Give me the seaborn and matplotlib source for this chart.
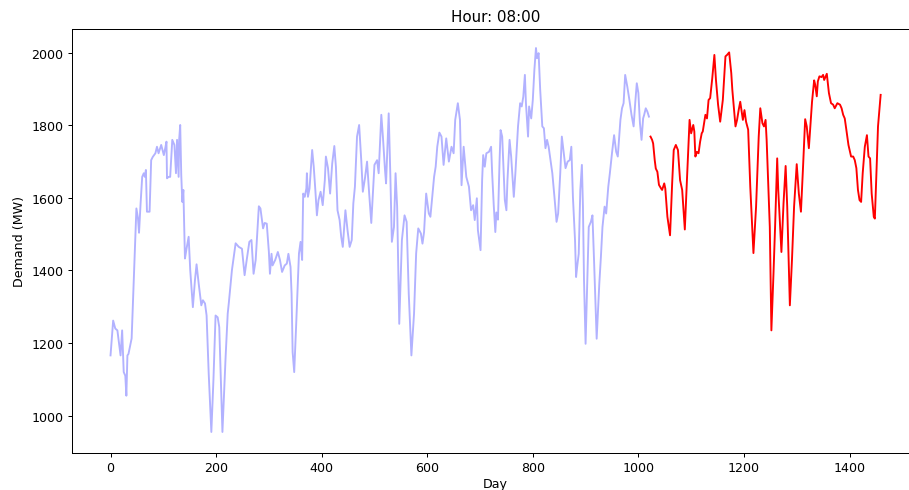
import matplotlib
matplotlib.use("Agg")
import matplotlib.pyplot as plt
import seaborn as sns

blue_day = [0, 5, 9, 13, 19, 22, 25, 28, 30, 32, 34, 40, 47, 49, 52, 54, 57, 60, 63, 65, 67, 69, 74, 77, 80, 85, 88, 91, 96, 101, 103, 106, 107, 110, 113, 117, 121, 124, 126, 129, 130, 132, 134, 136, 138, 141, 144, 148, 151, 156, 160, 163, 167, 172, 175, 179, 182, 186, 191, 195, 199, 203, 206, 209, 212, 218, 222, 224, 230, 237, 243, 249, 254, 258, 263, 267, 271, 275, 281, 284, 289, 292, 296, 300, 302, 305, 307, 312, 317, 321, 325, 330, 334, 337, 341, 343, 345, 348, 352, 357, 360, 363, 365, 368, 371, 372, 374, 377, 382, 385, 388, 391, 394, 398, 402, 406, 408, 412, 416, 420, 424, 427, 430, 434, 437, 440, 445, 449, 453, 457, 460, 463, 467, 471, 475, 478, 482, 486, 490, 494, 500, 505, 508, 513, 516, 520, 522, 527, 530, 533, 537, 540, 543, 547, 552, 557, 561, 565, 570, 575, 579, 583, 588, 591, 594, 598, 603, 606, 610, 613, 616, 619, 623, 627, 631, 636, 641, 646, 650, 653, 658, 662, 665, 669, 674, 679, 683, 687, 690, 694, 696, 701, 704, 706, 709, 712, 717, 721, 723, 726, 729, 731, 734, 737, 739, 742, 745, 747, 750, 752, 756, 759, 764, 767, 772, 776, 779, 782, 785, 787, 791, 793, 797, 800, 803, 806, 808, 811, 814, 818, 821, 824, 827, 830, 833, 837, 841, 845, 848, 852, 855, 858, 862, 866, 870, 873, 876, 880, 882, 884, 887, 890, 893, 895, 897, 900, 903, 906, 910, 913, 916, 921, 926, 929, 932, 936, 939, 943, 946, 950, 954, 958, 961, 966, 969, 972, 975, 979, 983, 987, 991, 994, 997, 1000, 1003, 1006, 1009, 1011, 1014, 1017, 1020]
blue_val = [1166, 1262, 1240, 1235, 1166, 1235, 1120, 1110, 1055, 1166, 1170, 1213, 1493, 1571, 1544, 1504, 1586, 1658, 1668, 1658, 1677, 1562, 1562, 1704, 1713, 1723, 1741, 1723, 1746, 1718, 1732, 1755, 1654, 1658, 1658, 1760, 1746, 1668, 1760, 1658, 1760, 1801, 1663, 1589, 1622, 1433, 1460, 1493, 1401, 1299, 1374, 1417, 1364, 1304, 1318, 1309, 1276, 1116, 955, 1100, 1276, 1271, 1244, 1100, 955, 1161, 1281, 1309, 1401, 1475, 1465, 1460, 1387, 1429, 1479, 1484, 1391, 1429, 1577, 1571, 1516, 1531, 1529, 1451, 1391, 1446, 1414, 1429, 1451, 1429, 1396, 1414, 1419, 1446, 1410, 1336, 1175, 1120, 1261, 1447, 1479, 1429, 1612, 1603, 1626, 1668, 1603, 1626, 1732, 1686, 1622, 1552, 1594, 1617, 1580, 1649, 1714, 1682, 1612, 1695, 1743, 1686, 1566, 1539, 1493, 1465, 1566, 1511, 1465, 1484, 1585, 1631, 1769, 1801, 1704, 1617, 1654, 1700, 1612, 1531, 1691, 1704, 1668, 1829, 1769, 1677, 1640, 1833, 1668, 1479, 1520, 1668, 1576, 1253, 1484, 1552, 1534, 1336, 1166, 1281, 1447, 1516, 1502, 1474, 1506, 1612, 1557, 1548, 1612, 1658, 1686, 1741, 1780, 1769, 1691, 1764, 1700, 1741, 1723, 1815, 1861, 1815, 1635, 1741, 1658, 1631, 1566, 1580, 1539, 1599, 1511, 1456, 1649, 1718, 1686, 1723, 1727, 1741, 1668, 1580, 1506, 1560, 1540, 1700, 1787, 1769, 1668, 1594, 1566, 1649, 1760, 1714, 1603, 1668, 1797, 1861, 1852, 1879, 1939, 1861, 1769, 1852, 1819, 1870, 1953, 2013, 1985, 1999, 1898, 1797, 1792, 1737, 1760, 1741, 1709, 1668, 1603, 1534, 1557, 1668, 1769, 1732, 1682, 1700, 1704, 1741, 1603, 1483, 1382, 1410, 1446, 1622, 1691, 1576, 1373, 1198, 1355, 1520, 1534, 1552, 1429, 1212, 1364, 1437, 1520, 1576, 1557, 1631, 1668, 1723, 1773, 1727, 1714, 1815, 1847, 1861, 1939, 1907, 1870, 1829, 1797, 1861, 1916, 1889, 1806, 1760, 1819, 1829, 1847, 1838, 1824]

red_day = [1023, 1026, 1028, 1031, 1033, 1036, 1039, 1043, 1045, 1049, 1051, 1055, 1060, 1064, 1067, 1071, 1075, 1079, 1083, 1088, 1092, 1097, 1100, 1104, 1106, 1108, 1111, 1114, 1117, 1120, 1122, 1127, 1130, 1133, 1136, 1140, 1144, 1147, 1151, 1155, 1160, 1165, 1168, 1172, 1176, 1178, 1184, 1187, 1190, 1193, 1198, 1201, 1204, 1208, 1212, 1218, 1223, 1228, 1231, 1235, 1238, 1241, 1243, 1249, 1252, 1256, 1259, 1263, 1265, 1271, 1275, 1279, 1282, 1287, 1291, 1295, 1300, 1304, 1308, 1312, 1316, 1319, 1323, 1329, 1333, 1335, 1338, 1340, 1343, 1347, 1350, 1352, 1357, 1361, 1365, 1369, 1372, 1377, 1382, 1385, 1388, 1391, 1394, 1398, 1403, 1407, 1410, 1413, 1416, 1419, 1422, 1425, 1429, 1433, 1436, 1439, 1442, 1446, 1448, 1451, 1454, 1459]
red_val = [1769, 1760, 1750, 1704, 1681, 1672, 1636, 1626, 1622, 1640, 1626, 1548, 1497, 1640, 1732, 1746, 1732, 1649, 1622, 1513, 1649, 1815, 1778, 1801, 1783, 1714, 1727, 1723, 1755, 1778, 1783, 1829, 1819, 1870, 1875, 1930, 1994, 1925, 1857, 1810, 1870, 1990, 1994, 2001, 1944, 1898, 1797, 1815, 1842, 1865, 1815, 1842, 1810, 1788, 1631, 1448, 1576, 1769, 1847, 1806, 1797, 1815, 1760, 1520, 1235, 1392, 1520, 1709, 1622, 1451, 1585, 1688, 1576, 1304, 1429, 1576, 1693, 1612, 1562, 1686, 1817, 1797, 1737, 1865, 1924, 1912, 1880, 1921, 1935, 1933, 1939, 1925, 1942, 1889, 1861, 1857, 1847, 1861, 1857, 1847, 1829, 1819, 1788, 1746, 1714, 1714, 1704, 1682, 1622, 1594, 1589, 1668, 1741, 1773, 1714, 1709, 1612, 1548, 1543, 1668, 1797, 1884]

title = "Hour: 08:00"
xlabel = "Day"
ylabel = "Demand (MW)"

fig = plt.figure(figsize=(10, 5.4015), dpi=90.9)
ax = fig.add_axes([0.0792, 0.0753, 0.932, 0.864])
sns.lineplot(x=blue_day, y=blue_val, color="blue", alpha=0.3, linewidth=1.5, ax=ax)
sns.lineplot(x=red_day, y=red_val, color="red", linewidth=1.5, ax=ax)
ax.set_xlim(-73, 1532)
ax.set_ylim(897, 2066)
ax.set_title(title, fontsize=12)
ax.set_xlabel(xlabel, fontsize=10, labelpad=2)
ax.set_ylabel(ylabel, fontsize=10)
ax.tick_params(axis="x", pad=3)
fig.savefig("out.png", dpi=90.9)
